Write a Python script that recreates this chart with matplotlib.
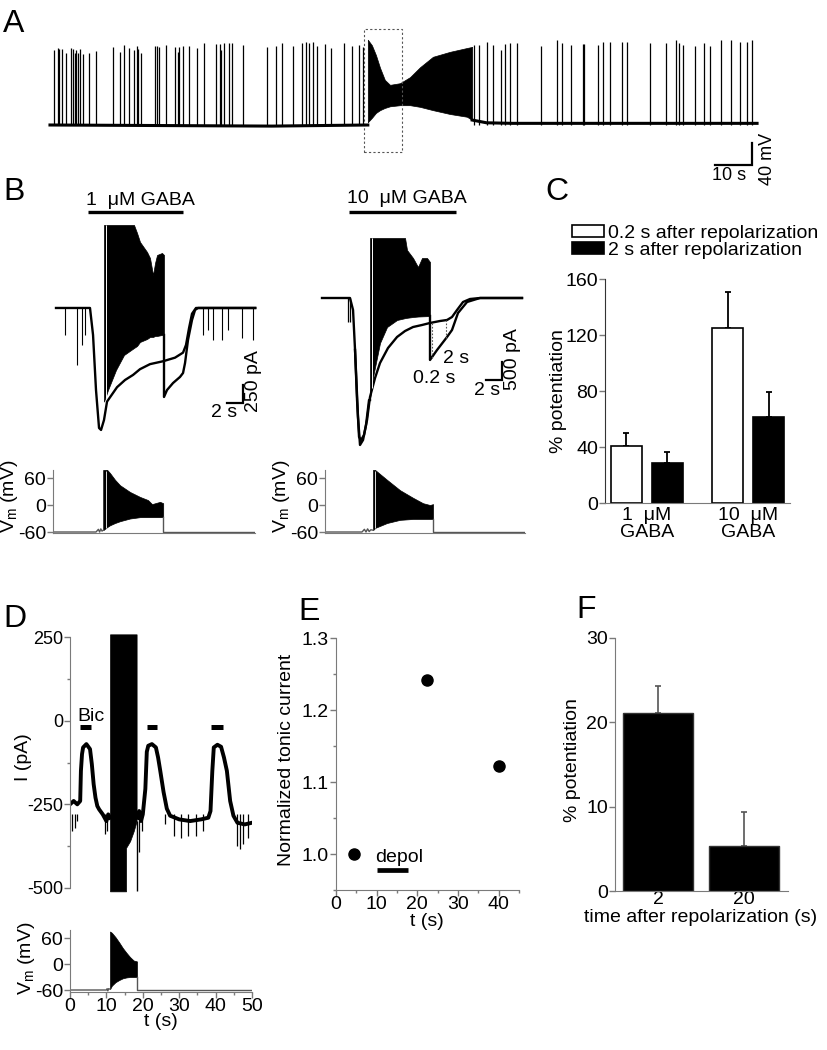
import numpy as np
import matplotlib.pyplot as plt
from matplotlib.patches import Rectangle, Patch
from matplotlib.ticker import MultipleLocator, FormatStrFormatter

plt.rcParams['font.family'] = ['Liberation Sans', 'DejaVu Sans']
plt.rcParams['mathtext.fontset'] = 'custom'
plt.rcParams['mathtext.rm'] = 'Liberation Sans'
plt.rcParams['mathtext.it'] = 'Liberation Sans:italic'
plt.rcParams['axes.unicode_minus'] = False

# ---------------- data ----------------
# A: long current-clamp trace (t in s, Vm in mV)
a_spike_t = [1.1, 2.2, 2.4, 3.2, 4.3, 5.7, 6.2, 6.8, 7.0, 7.6, 8.1, 8.9, 10.5, 12.4, 17.0,
             18.9, 20.0, 21.4, 22.7, 23.5, 23.8, 24.6, 28.4, 28.9, 29.5, 31.4, 33.8, 34.6, 34.9,
             35.9, 37.6, 39.7, 41.6, 44.9, 45.9, 46.2, 47.0, 48.4, 49.2, 52.2, 58.6, 61.1, 62.7,
             65.7, 68.1, 69.2, 70.0, 71.1, 72.2, 74.3, 75.9, 79.5, 81.6, 83.5, 84.6,
             114.6, 115.9, 118.1, 119.7, 121.9, 123.0, 124.3, 126.2, 132.7, 137.0, 138.4, 140.8,
             144.1, 144.3, 148.1, 149.5, 151.4, 154.6, 155.9, 162.2, 166.5, 169.2, 170.0, 171.1,
             174.3, 176.8, 178.4, 181.4, 184.1, 186.5, 188.4, 189.7]
a_spike_v = [76, 80, 78, 78, 71, 80, 78, 71, 76, 71, 78, 69, 71, 75, 82,
             73, 85, 80, 76, 84, 78, 71, 84, 84, 82, 85, 82, 73, 82,
             84, 84, 80, 89, 87, 87, 76, 89, 89, 89, 85, 82, 84, 89,
             84, 89, 91, 89, 91, 84, 87, 80, 89, 84, 85, 82,
             85, 85, 91, 85, 76, 87, 89, 89, 84, 95, 89, 85,
             87, 87, 85, 91, 91, 91, 91, 89, 89, 95, 89, 85,
             84, 89, 84, 95, 95, 91, 91, 95]
a_base_t = [0, 60, 85.9, 114.1, 118, 125, 191.1]
a_base_v = [-60, -62, -60, -51, -56, -57, -57]
a_burst_t = [85.9, 87.0, 88.1, 89.2, 90.5, 91.9, 94.6, 97.3, 100.0, 103.5, 108.1, 112.7, 114.1]
a_burst_hi = [95, 85, 67, 44, 22, 13, 16, 27, 45, 64, 73, 80, 82]
a_burst_lo = [-55, -47, -38, -33, -29, -26, -24, -24, -27, -33, -40, -45, -51]

# B left: 1 uM GABA (t in s, I in pA)
bl_ctrl_t = [0, 4.25, 4.63, 5.0, 5.38, 5.63, 6.0, 6.38, 7.63, 8.63, 9.63, 10.5, 11.75, 13.38,
             14.88, 15.88, 16.25, 16.63, 17.0, 17.5, 24.9]
bl_ctrl_i = [0, 0, -375, -1139, -1667, -1694, -1556, -1300, -1100, -1000, -930, -850, -780, -740,
             -690, -620, -514, -280, -80, 0, 0]
bl_burst_t = [6.0, 6.5, 7.5, 8.5, 9.75, 10.13, 10.5, 11.38, 11.75, 12.13, 12.38, 12.63, 13.25, 13.5]
bl_burst_hi = [1153, 1153, 1153, 1153, 1153, 1042, 917, 778, 694, 458, 625, 736, 764, 736]
bl_burst_lo = [-1300, -1139, -861, -653, -556, -528, -472, -431, -403, -403, -389, -389, -375, -375]
bl_post_t = [13.5, 13.5, 13.88, 14.63, 15.5, 15.88, 16.13, 16.5, 17.0, 17.38, 17.75, 24.9]
bl_post_i = [-375, -1236, -1139, -1042, -958, -903, -764, -444, -167, -28, 0, 0]
bl_blip_t = [1.13, 2.63, 3.25, 3.63, 18.4, 19.0, 19.6, 20.75, 21.5, 23.25, 24.6]
bl_blip_i = [-375, -792, -514, -375, -375, -306, -444, -444, -306, -417, -444]

# B right: 10 uM GABA
br_ctrl_t = [0, 3.5, 3.88, 4.13, 4.38, 4.63, 4.88, 5.25, 5.63, 6.0, 6.63, 7.25, 8.25, 9.38, 10.38,
             11.38, 12.5, 13.5, 14.75, 15.63, 16.25, 16.88, 17.63, 18.5, 19.75, 25.0]
br_ctrl_i = [0, 0, -333, -1444, -2833, -3861, -3944, -3806, -3389, -2750, -2222, -1806, -1389,
             -1083, -917, -806, -750, -694, -639, -611, -528, -333, -111, -28, 0, 0]
br_dep_t = [4.13, 4.5, 4.75, 5.13, 5.5, 5.88, 6.0]
br_dep_i = [-1444, -3300, -4083, -3944, -3528, -2833, -2833]
br_burst_t = [6.0, 6.38, 7.25, 8.13, 9.38, 10.38, 10.63, 11.38, 12.0, 12.5, 13.13, 13.5]
br_burst_hi = [1667, 1667, 1667, 1667, 1667, 1667, 1333, 1111, 861, 1111, 1111, 1000]
br_burst_lo = [-2833, -2194, -1250, -806, -611, -560, -550, -528, -515, -510, -505, -500]
br_post_t = [13.5, 13.5, 14.38, 15.63, 16.25, 17.0, 18.13, 19.75, 25.0]
br_post_i = [-500, -1722, -1444, -1083, -889, -417, -111, 0, 0]
br_blip_t = [3.25, 3.5]
br_blip_i = [-667, -667]

# Vm traces under B (mV)
vml_base_t = [-0.4, 5.0, 5.3, 5.45, 5.6, 5.75, 5.9]
vml_base_v = [-60, -60, -54, -60, -53, -58, -56]
vml_burst_t = [5.9, 6.4, 6.75, 7.38, 8.0, 9.25, 10.5, 11.5, 12.0, 12.4, 13.0, 13.4]
vml_hi = [78, 78, 71, 56, 44, 29, 18, 11, 2, 4, 7, 4]
vml_lo = [-56, -49, -45, -40, -36, -30, -27, -27, -27, -27, -27, -27]
vml_post_t = [13.4, 13.4, 24.9]
vml_post_v = [-27, -60, -60]

vmr_base_t = [0.375, 5.0, 5.3, 5.5, 5.7, 5.9, 6.1, 6.38]
vmr_base_v = [-60, -60, -54, -60, -53, -59, -55, -56]
vmr_burst_t = [6.38, 6.63, 8.13, 9.75, 11.38, 12.63, 13.5, 13.88]
vmr_hi = [78, 78, 56, 33, 16, 4, 0, 2]
vmr_lo = [-56, -51, -40, -33, -31, -31, -31, -31]
vmr_post_t = [13.88, 13.88, 25.4]
vmr_post_v = [-31, -60, -60]

# C: % potentiation
c_groups = ['1  \u03bcM\nGABA', '10  \u03bcM\nGABA']
c_02 = [40.5, 125.0]
c_02_err = [9.5, 25.5]
c_2 = [28.5, 61.5]
c_2_err = [8.0, 18.0]

# D: tonic current with bicuculline puffs
d_pre_t = [0, 1, 2, 2.8, 3.0, 3.3, 3.6, 4.5, 5.5, 6.0, 6.5, 7.0, 7.5, 8.0, 9.0, 10.0, 10.5, 11.0]
d_pre_i = [-250, -240, -250, -240, -150, -100, -80, -70, -85, -130, -190, -230, -255, -265,
           -280, -300, -280, -290]
d_post_t = [18.5, 19.0, 19.5, 20.0, 20.7, 21.1, 21.5, 22.5, 23.6, 24.2, 24.8, 25.7, 26.6, 27.5,
            30, 33, 36, 38.0, 38.6, 39.1, 39.5, 40.5, 41.5, 42.3, 43.1, 44.0, 44.9, 46, 48, 50]
d_post_i = [-290, -270, -300, -280, -204, -93, -75, -70, -80, -110, -150, -213, -263, -284,
            -295, -300, -295, -290, -270, -150, -80, -72, -78, -110, -150, -240, -284, -305,
            -310, -305]
d_blip_t = [0.6, 1.3, 1.8, 9.6, 10.3, 18.9, 19.8, 26.0, 28.5, 30.5, 32.5, 34.5, 36.5, 45.9,
            46.8, 47.5, 49.0]
d_blip_i = [-330, -320, -300, -340, -330, -393, -330, -310, -345, -350, -345, -345, -330,
            -375, -383, -370, -350]
d_block_t = [11.0, 15.4, 15.4, 16.5, 17.5, 18.3]
d_block_lo = [-510, -510, -380, -360, -330, -300]
d_bic_on = [2.8, 21.1, 38.8]
d_bic_off = [5.8, 24.0, 42.0]

vd_base_t = [0, 10.0, 10.2, 10.4, 10.6, 11.0]
vd_base_v = [-60, -60, -57, -62, -57, -58]
vd_burst_t = [11.0, 11.5, 12.5, 13.5, 14.5, 15.5, 16.5, 17.5, 18.4]
vd_hi = [75, 72, 62, 50, 37, 26, 16, 8, 6]
vd_lo = [-58, -50, -42, -37, -33, -31, -30, -30, -30]
vd_post_t = [18.4, 18.4, 50]
vd_post_v = [-30, -60, -60]

# E: normalized tonic current
e_t = [4.4, 22.5, 40.1]
e_val = [1.0, 1.242, 1.122]

# F: % potentiation vs time after repolarization
f_labels = ['2', '20']
f_vals = [21.1, 5.3]
f_err = [3.2, 4.1]

# ---------------- figure ----------------
W, H = 828, 1050
GRAY = '#7a7a7a'
FS = 14
fig = plt.figure(figsize=(W / 100, H / 100), dpi=100)


def px_axes(x0, y0, x1, y1):
    return fig.add_axes([x0 / W, 1 - y1 / H, (x1 - x0) / W, (y1 - y0) / H])


def bare(ax):
    for s in ax.spines.values():
        s.set_visible(False)
    ax.set_xticks([])
    ax.set_yticks([])
    ax.patch.set_alpha(0)


def lframe(ax, bottom=True, size=FS):
    ax.patch.set_alpha(0)
    for side in ['top', 'right']:
        ax.spines[side].set_visible(False)
    ax.spines['left'].set_color(GRAY)
    ax.spines['bottom'].set_color(GRAY)
    ax.spines['bottom'].set_visible(bottom)
    ax.tick_params(colors=GRAY, labelcolor='k', labelsize=size, length=4, width=1, pad=1)
    ax.tick_params(which='minor', colors=GRAY, length=2.5, width=1)


def ftext(x, y, s, **kw):
    fig.text(x / W, 1 - y / H, s, **kw)


# ---- A
axA = px_axes(40, 25, 780, 180)
bare(axA)
axA.set_xlim(-2.7, 197.3)
axA.set_ylim(-160, 121.8)
axA.plot(a_base_t[:3], a_base_v[:3], color='k', lw=2.2)
axA.plot(a_base_t[3:], a_base_v[3:], color='k', lw=2.2)
axA.vlines(a_spike_t, -60, a_spike_v, color='k', lw=0.9)
axA.fill_between(a_burst_t, a_burst_lo, a_burst_hi, color='k', lw=0.5)
axA.add_patch(Rectangle((84.9, -109), 10.2, 223.5, fill=False, ls=(0, (2, 2)),
                        ec='#555555', lw=0.8, clip_on=False))
axA.plot([179.7, 189.7, 189.7], [-132.7, -132.7, -92.7], color='k', lw=1.6,
         solid_joinstyle='miter', clip_on=False)
axA.text(183.5, -136, '10 s', ha='center', va='top', fontsize=13)
axA.text(194.0, -121, '40 mV', ha='center', va='center', rotation=90, fontsize=13)

# ---- B left (current)
axBL = px_axes(45, 195, 265, 445)
bare(axBL)
axBL.set_xlim(-1.375, 26.125)
axBL.set_ylim(-1903, 1569)
axBL.plot(bl_ctrl_t, bl_ctrl_i, color='k', lw=1.7)
axBL.vlines(bl_blip_t, 0, bl_blip_i, color='k', lw=0.8)
axBL.fill_between(bl_burst_t, bl_burst_lo, bl_burst_hi, color='k', lw=0.5)
axBL.vlines([6.2], -1250, 1153, color='white', lw=0.7)
axBL.plot(bl_post_t, bl_post_i, color='k', lw=1.7)
axBL.plot([4.0, 15.9], [1333, 1333], color='k', lw=2.4, solid_capstyle='butt')
axBL.text(10.6, 1431, '1  \u03bcM GABA', ha='center', va='baseline', fontsize=FS)
axBL.plot([21.4, 23.4, 23.4], [-1319, -1319, -1069], color='k', lw=1.6,
          solid_joinstyle='miter')
axBL.text(21.0, -1340, '2 s', ha='center', va='top', fontsize=FS)
axBL.text(24.7, -1010, '250 pA', ha='center', va='center', rotation=90, fontsize=FS)

# ---- B right (current)
axBR = px_axes(315, 195, 530, 460)
bare(axBR)
axBR.set_xlim(-0.875, 26.0)
axBR.set_ylim(-4500, 2861)
axBR.plot(br_ctrl_t, br_ctrl_i, color='k', lw=1.7)
axBR.plot(br_dep_t, br_dep_i, color='k', lw=1.7)
axBR.vlines(br_blip_t, 0, br_blip_i, color='k', lw=0.9)
axBR.fill_between(br_burst_t, br_burst_lo, br_burst_hi, color='k', lw=0.5)
axBR.vlines([6.3], -2500, 1667, color='white', lw=0.7)
axBR.plot(br_post_t, br_post_i, color='k', lw=1.7)
axBR.vlines([13.7, 15.5], [-1680, -1120], [-690, -615], color='#555555', lw=0.8,
            linestyles=(0, (1.5, 1.5)))
axBR.text(16.8, -1667, '2 s', ha='center', va='center', fontsize=FS)
axBR.text(14.0, -2250, '0.2 s', ha='center', va='center', fontsize=FS)
axBR.plot([3.4, 16.75], [2389, 2389], color='k', lw=2.4, solid_capstyle='butt')
axBR.text(10.6, 2639, '10  \u03bcM GABA', ha='center', va='baseline', fontsize=FS)
axBR.plot([20.5, 22.5, 22.5], [-2278, -2278, -1778], color='k', lw=1.6,
          solid_joinstyle='miter')
axBR.text(20.6, -2320, '2 s', ha='center', va='top', fontsize=FS)
axBR.text(23.8, -1700, '500 pA', ha='center', va='center', rotation=90, fontsize=FS)

# ---- B Vm traces
for box, xl, bt, bv, ut, hi, lo, pt, pv in [
        ((53, 470, 255, 533), (-0.375, 24.875), vml_base_t, vml_base_v, vml_burst_t,
         vml_hi, vml_lo, vml_post_t, vml_post_v),
        ((325, 470, 525, 533), (0.375, 25.375), vmr_base_t, vmr_base_v, vmr_burst_t,
         vmr_hi, vmr_lo, vmr_post_t, vmr_post_v)]:
    ax = px_axes(*box)
    lframe(ax)
    ax.set_xlim(*xl)
    ax.set_ylim(-62.2, 77.8)
    ax.set_xticks([])
    ax.set_yticks([-60, 0, 60])
    ax.plot(bt, bv, color='#555555', lw=1.0)
    ax.fill_between(ut, lo, hi, color='k', lw=0.5)
    ax.vlines([ut[0] + 0.3], -50, 75, color='white', lw=0.6)
    ax.plot(pt, pv, color='#555555', lw=1.0)

ftext(10, 496, r'V$_\mathrm{m}$ (mV)', rotation=90, ha='center', va='center', fontsize=FS)
ftext(282, 496, r'V$_\mathrm{m}$ (mV)', rotation=90, ha='center', va='center', fontsize=FS)

# ---- C
axC = px_axes(605, 279, 790, 503)
lframe(axC)
axC.spines['left'].set_color('#333333')
xc = np.arange(len(c_groups))
axC.bar(xc - 0.2, c_02, 0.305, color='white', edgecolor='k', lw=1.2, zorder=2)
axC.bar(xc + 0.2, c_2, 0.305, color='k', edgecolor='k', lw=1.2, zorder=2)
axC.errorbar(xc - 0.2, c_02, yerr=[np.zeros(2), c_02_err], fmt='none', ecolor='k',
             elinewidth=1.3, capsize=2, capthick=1.3, zorder=1)
axC.errorbar(xc + 0.2, c_2, yerr=[np.zeros(2), c_2_err], fmt='none', ecolor='k',
             elinewidth=1.3, capsize=2, capthick=1.3, zorder=1)
axC.set_xlim(-0.411, 1.411)
axC.set_ylim(0, 160)
axC.set_yticks([0, 40, 80, 120, 160])
axC.set_xticks(xc)
axC.set_xticklabels(c_groups, fontsize=FS, linespacing=1.0)
axC.tick_params(axis='x', length=0, pad=3)
ftext(559, 391, '% potentiation', rotation=90, ha='center', va='center', fontsize=FS)
fig.legend(handles=[Patch(facecolor='white', edgecolor='k', lw=1.2,
                          label='0.2 s after repolarization'),
                    Patch(facecolor='k', edgecolor='k', lw=1.2,
                          label='2 s after repolarization')],
           loc='upper left', bbox_to_anchor=(572 / W, 1 - 225 / H), frameon=False,
           fontsize=FS, handlelength=1.65, handleheight=0.55, handletextpad=0.2,
           labelspacing=0.0, borderpad=0, borderaxespad=0)

# ---- D (current)
axD = px_axes(70, 637, 252, 888)
lframe(axD, bottom=False, size=13)
axD.set_xlim(0, 50)
axD.set_ylim(-500, 250)
axD.set_xticks([])
axD.set_yticks([-500, -250, 0, 250])
axD.yaxis.set_minor_locator(MultipleLocator(125))
axD.plot(d_pre_t, d_pre_i, color='k', lw=2.8)
axD.plot(d_post_t, d_post_i, color='k', lw=2.8)
axD.vlines(d_blip_t, -280, d_blip_i, color='k', lw=0.9)
axD.fill_between(d_block_t, d_block_lo, 258, color='k', lw=0.5, clip_on=False)
axD.vlines([18.45], -510, -300, color='k', lw=1.0, clip_on=False)
axD.hlines([-20] * 3, d_bic_on, d_bic_off, color='k', lw=3.6)
axD.text(2.0, -2, 'Bic', ha='left', va='baseline', fontsize=FS)
ftext(24, 757, 'I (pA)', rotation=90, ha='center', va='center', fontsize=FS)

# ---- D (Vm)
axDv = px_axes(70, 930, 252, 992)
lframe(axDv)
axDv.set_xlim(0, 50)
axDv.set_ylim(-64.6, 78.5)
axDv.set_yticks([-60, 0, 60])
axDv.set_xticks(range(0, 51, 10))
axDv.xaxis.set_minor_locator(MultipleLocator(5))
axDv.tick_params(axis='x', pad=0)
axDv.plot(vd_base_t, vd_base_v, color='#555555', lw=1.0)
axDv.fill_between(vd_burst_t, vd_lo, vd_hi, color='k', lw=0.5)
axDv.plot(vd_post_t, vd_post_v, color='#555555', lw=1.0)
ftext(27, 958, r'V$_\mathrm{m}$ (mV)', rotation=90, ha='center', va='center', fontsize=FS)
ftext(161, 1022, 't (s)', ha='center', va='center', fontsize=FS)

# ---- E
axE = px_axes(336, 638, 519, 890)
lframe(axE)
axE.set_xlim(0, 45)
axE.set_ylim(0.95, 1.3)
axE.set_yticks([1.0, 1.1, 1.2, 1.3])
axE.yaxis.set_major_formatter(FormatStrFormatter('%.1f'))
axE.yaxis.set_minor_locator(MultipleLocator(0.05))
axE.set_xticks(range(0, 41, 10))
axE.xaxis.set_minor_locator(MultipleLocator(5))
axE.tick_params(axis='x', pad=0)
axE.plot(e_t, e_val, 'o', color='k', ms=8, clip_on=False)
axE.text(9.6, 0.989, 'depol', ha='left', va='baseline', fontsize=FS)
axE.plot([10.1, 17.7], [0.978, 0.978], color='k', lw=3.4, solid_capstyle='butt')
ftext(287, 760, 'Normalized tonic current', rotation=90, ha='center', va='center',
      fontsize=FS)
ftext(427, 922, 't (s)', ha='center', va='center', fontsize=FS)

# ---- F
axF = px_axes(615, 638, 788, 891)
lframe(axF)
xf = np.arange(len(f_vals))
axF.bar(xf, f_vals, 0.814, color='k', edgecolor='#333333', lw=1.0, zorder=2)
axF.errorbar(xf, f_vals, yerr=[np.zeros(2), f_err], fmt='none', ecolor='#555555',
             elinewidth=1.2, capsize=2, capthick=1.2, zorder=1)
axF.set_xlim(-0.5, 1.512)
axF.set_ylim(0, 30)
axF.set_yticks([0, 10, 20, 30])
axF.set_xticks(xf)
axF.set_xticklabels(f_labels)
axF.tick_params(axis='x', length=0, pad=0)
ftext(573, 760, '% potentiation', rotation=90, ha='center', va='center', fontsize=FS)
ftext(701, 918, 'time after repolarization (s)', ha='center', va='center', fontsize=FS)

# ---- panel letters
for x, y, s in [(3, 9, 'A'), (3, 177, 'B'), (545, 177, 'C'), (3, 604, 'D'),
                (298, 597, 'E'), (576, 595, 'F')]:
    ftext(x, y, s, ha='left', va='top', fontsize=23)

fig.savefig('out.png', dpi=100)
